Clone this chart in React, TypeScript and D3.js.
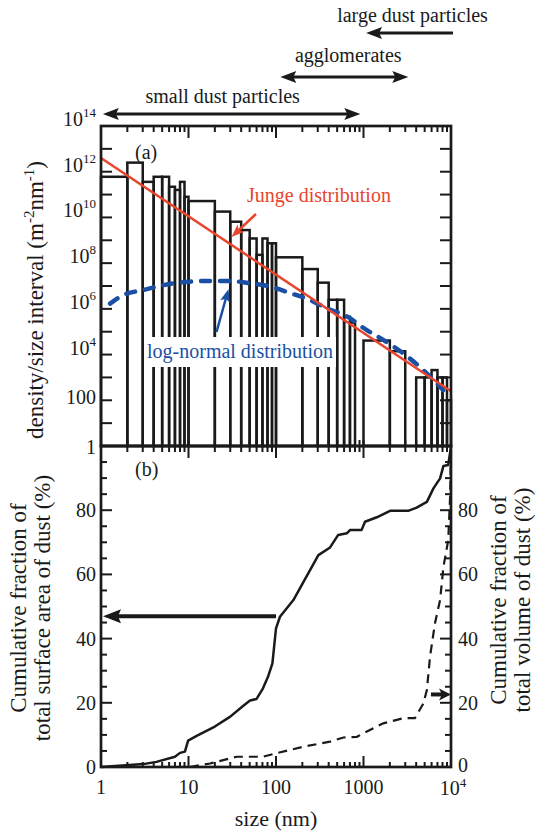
import React from "react";
import * as d3 from "d3";

// histogram bins (nm) and density per size interval (m^-2 nm^-1)
const binLow = [1, 2, 3, 4, 5, 6, 7, 8, 9, 10, 20, 30, 40, 50, 60, 70, 80, 90, 100, 200, 300, 400, 500, 600, 700, 1000, 2000, 4000, 5000, 6000, 7000, 8000, 9000];
const binHigh = [2, 3, 4, 5, 6, 7, 8, 9, 10, 20, 30, 40, 50, 60, 70, 80, 90, 100, 200, 300, 400, 500, 600, 700, 800, 2000, 3000, 5000, 6000, 7000, 8000, 9000, 10000];
const binDensity = [6e11, 2.5e12, 3.6e11, 6e11, 6e11, 2.2e11, 1.6e11, 3.6e11, 8e10, 5.2e10, 1.8e10, 6.5e9, 2.8e9, 1.2e9, 2.3e8, 1.2e9, 7.4e8, 7.4e8, 1.8e8, 5.5e7, 1.4e7, 2.5e6, 2.5e6, 4.5e5, 2.5e5, 4.1e4, 1.4e4, 1e3, 1e3, 2.1e3, 1e3, 1e3, 1e2];

// Junge power law (end points)
const jungeSize = [1, 10000];
const jungeDensity = [4e12, 2.5e2];

// log-normal fit
const lognSize = [1.27, 1.8, 3, 6.1, 10.4, 16, 30, 50, 85, 145, 245, 380, 645, 1090, 1680, 2850, 4820, 8170];
const lognDensity = [1.7e6, 4e6, 6.6e6, 1.23e7, 1.55e7, 1.66e7, 1.66e7, 1.32e7, 9.5e6, 4.9e6, 2.45e6, 1.05e6, 4.7e5, 1.17e5, 4.4e4, 1.12e4, 2.1e3, 2.8e2];

// cumulative fraction of total surface area (%)
const areaSize = [1, 3.04, 4.3, 7, 8, 9.1, 9.9, 12.4, 20, 30, 42, 50.5, 60, 71, 81, 91, 100, 111, 158, 305, 415, 514, 645, 700, 950, 1040, 1420, 2010, 3240, 4050, 5300, 6300, 7500, 8200, 9300, 10000];
const areaPct = [0, 0.9, 1.6, 3.2, 4.4, 4.8, 8.2, 9.7, 12.6, 15.7, 19, 20.7, 21.2, 24.5, 28.1, 32.3, 43.2, 46.8, 52, 66, 68.4, 72.3, 72.8, 73.8, 73.8, 76.4, 77.8, 79.8, 79.8, 80.8, 82.6, 86.8, 89.9, 93.8, 94.1, 99.8];

// cumulative fraction of total volume (%)
const volSize = [10.4, 17.6, 35.5, 71, 101, 204, 415, 590, 840, 1000, 1680, 2850, 3860, 4830, 5300, 5760, 6560, 7500, 8200, 9300, 9800, 10000];
const volPct = [0, 1.1, 3.2, 3.2, 4.3, 6.3, 7.9, 9.2, 9.4, 10.5, 13.6, 15.2, 15.2, 19.8, 24, 34.4, 44.8, 52, 62.4, 70.7, 85, 100];

const yTickExp = [0, 2, 4, 6, 8, 10, 12, 14];
const pctTicks = [0, 20, 40, 60, 80];
const xTickLabels = ["1", "10", "100", "1000", "10^4"];

const FONT = "'Liberation Serif', 'Times New Roman', Times, serif";
const RED = "#e8452c";
const BLUE = "#1a4fa3";
const INK = "#1a1a1a";

function head(x: number, y: number, angle: number, len = 14, half = 5.5) {
  const c = Math.cos(angle), s = Math.sin(angle);
  const bx = x - c * len, by = y - s * len;
  return `M${x},${y}L${bx - s * half},${by + c * half}L${bx + c * 3},${by + s * 3}L${bx + s * half},${by - c * half}Z`;
}

function Arrow({ x1, y1, x2, y2, color = INK, w = 2.5, len = 14, half = 5.5, both = false }: any) {
  const a = Math.atan2(y2 - y1, x2 - x1);
  const c = Math.cos(a), s = Math.sin(a);
  return (
    <g>
      <line x1={both ? x1 + c * len * 0.7 : x1} y1={both ? y1 + s * len * 0.7 : y1} x2={x2 - c * len * 0.7} y2={y2 - s * len * 0.7} stroke={color} strokeWidth={w} />
      <path d={head(x2, y2, a, len, half)} fill={color} />
      {both && <path d={head(x1, y1, a + Math.PI, len, half)} fill={color} />}
    </g>
  );
}

export default function App() {
  const left = 101, right = 451, topA = 126, midY = 446, botB = 767;
  const x = d3.scaleLog().domain([1, 1e4]).range([left, right]);
  const yA = d3.scaleLog().domain([1, 1e14]).range([midY, topA]);
  const yB = d3.scaleLinear().domain([0, 100]).range([botB, midY]);

  const xt = x.ticks();
  const isMajor = (v: number) => Math.abs(Math.log10(v) - Math.round(Math.log10(v))) < 1e-9;

  const lineA = d3.line<[number, number]>().x((d) => x(d[0])).y((d) => yA(d[1]));
  const lineB = d3.line<[number, number]>().x((d) => x(d[0])).y((d) => yB(d[1]));

  const junge = jungeSize.map((s, i) => [s, jungeDensity[i]] as [number, number]);
  const logn = d3.line<[number, number]>().x((d) => x(d[0])).y((d) => yA(d[1])).curve(d3.curveMonotoneX)(lognSize.map((s, i) => [s, lognDensity[i]]));
  const area = areaSize.map((s, i) => [s, areaPct[i]] as [number, number]);
  const vol = volSize.map((s, i) => [s, volPct[i]] as [number, number]);

  const minor5 = d3.range(0, 101, 5);

  return (
    <svg width={540} height={832} style={{ display: "block", position: "absolute", left: 0, top: 0, background: "#fff", fontFamily: FONT }}>
      <rect width={540} height={832} fill="#fff" />

      {/* top range arrows */}
      <text x={x(500)} y={22} fontSize={20} fill={INK}>large dust particles</text>
      <Arrow x1={x(1e4) + 2} y1={33} x2={x(1070)} y2={33} w={3} len={16} half={6} />
      <text x={(x(110) + x(3300)) / 2 + 4} y={62} fontSize={20} textAnchor="middle" fill={INK}>agglomerates</text>
      <Arrow x1={x(112)} y1={77} x2={x(3250)} y2={77} w={3} len={16} half={6} both />
      <text x={(x(1) + x(920)) / 2 - 8} y={103} fontSize={20} textAnchor="middle" fill={INK}>small dust particles</text>
      <Arrow x1={x(1.05)} y1={114} x2={x(920)} y2={114} w={3} len={16} half={6} both />

      {/* histogram */}
      <g fill="none" stroke={INK} strokeWidth={2.5}>
        {binDensity.map((v, i) => (
          <rect key={i} x={x(binLow[i])} y={yA(v)} width={x(binHigh[i]) - x(binLow[i])} height={midY - yA(v)} />
        ))}
      </g>

      {/* label boxes */}
      <rect x={146} y={337} width={190} height={30} fill="#fff" />
      <text x={147} y={358} fontSize={20} fill={BLUE}>log-normal distribution</text>
      <text x={247} y={202} fontSize={20} fill={RED}>Junge distribution</text>

      {/* fits */}
      <path d={logn || ""} fill="none" stroke={BLUE} strokeWidth={4.5} strokeDasharray="9 10" strokeLinecap="round" />
      <path d={lineA(junge) || ""} fill="none" stroke={RED} strokeWidth={2.5} />
      <Arrow x1={256} y1={214} x2={231.5} y2={237} color={RED} w={2.5} len={13} half={5} />
      <Arrow x1={216.5} y1={332} x2={228.5} y2={289} color={BLUE} w={2.5} len={13} half={5} />

      {/* panel b curves */}
      <path d={lineB(area) || ""} fill="none" stroke={INK} strokeWidth={2.5} strokeLinejoin="round" />
      <path d={lineB(vol) || ""} fill="none" stroke={INK} strokeWidth={2.2} strokeDasharray="9 6" />
      <Arrow x1={x(100)} y1={yB(47)} x2={x(1) + 2} y2={yB(47)} w={4} len={18} half={7} />
      <Arrow x1={x(5900)} y1={yB(22.6)} x2={x(1e4)} y2={yB(22.6)} w={4} len={12} half={6} />

      <text x={135} y={159} fontSize={20} fill={INK}>(a)</text>
      <text x={135} y={476} fontSize={20} fill={INK}>(b)</text>

      {/* frames */}
      <g fill="none" stroke={INK} strokeWidth={2.7}>
        <rect x={left} y={topA} width={right - left} height={midY - topA} />
        <rect x={left} y={midY} width={right - left} height={botB - midY} />
      </g>

      {/* ticks */}
      <g stroke={INK} strokeWidth={2}>
        {xt.map((v, i) => {
          const m = isMajor(v);
          const px = x(v);
          return (
            <g key={i}>
              <line x1={px} x2={px} y1={topA} y2={topA + (m ? 12 : 6)} />
              <line x1={px} x2={px} y1={midY - 6} y2={midY + (m ? 12 : 6)} />
              <line x1={px} x2={px} y1={botB} y2={botB - (m ? 11 : 5)} />
            </g>
          );
        })}
        {d3.range(0, 15).map((e) => (
          <g key={e}>
            <line x1={left} x2={left + 11} y1={yA(10 ** e)} y2={yA(10 ** e)} />
            <line x1={right} x2={right - 11} y1={yA(10 ** e)} y2={yA(10 ** e)} />
          </g>
        ))}
        {minor5.map((p) => {
          const m = p % 20 === 0;
          return (
            <g key={p}>
              <line x1={left} x2={left + (m ? 11 : 6)} y1={yB(p)} y2={yB(p)} />
              <line x1={right} x2={right - (m ? 11 : 6)} y1={yB(p)} y2={yB(p)} />
            </g>
          );
        })}
      </g>

      {/* y tick labels panel a */}
      <g fontSize={20} fill={INK} textAnchor="end">
        {yTickExp.map((e) => {
          const py = yA(10 ** e);
          if (e === 0) return <text key={e} x={96} y={py + 8}>1</text>;
          if (e === 2) return <text key={e} x={96} y={py + 4}>100</text>;
          return (
            <text key={e} x={96} y={py}>
              10<tspan fontSize={13} dy={-9}>{e}</tspan>
            </text>
          );
        })}
      </g>

      {/* panel b tick labels */}
      <g fontSize={20} fill={INK}>
        {pctTicks.map((p) => (
          <g key={p}>
            <text x={96} y={yB(p) + 7} textAnchor="end">{p}</text>
            <text x={458} y={yB(p) + (p === 0 ? 5 : 7)}>{p}</text>
          </g>
        ))}
      </g>

      {/* x tick labels */}
      <g fontSize={20} fill={INK} textAnchor="middle">
        {xTickLabels.map((t, i) => {
          const px = x(10 ** i);
          if (t.includes("^")) {
            return (
              <text key={t} x={px + 2} y={795}>
                10<tspan fontSize={13} dy={-8}>4</tspan>
              </text>
            );
          }
          return <text key={t} x={px} y={794}>{t}</text>;
        })}
      </g>

      {/* axis titles */}
      <text x={276} y={826} fontSize={22} textAnchor="middle" fill={INK}>size (nm)</text>
      <text transform="translate(43,300) rotate(-90)" fontSize={23} textAnchor="middle" fill={INK}>
        density/size interval (m<tspan fontSize={15} dy={-9}>-2</tspan><tspan dy={9}>nm</tspan><tspan fontSize={15} dy={-9}>-1</tspan><tspan dy={9}>)</tspan>
      </text>
      <text transform="translate(26,608) rotate(-90)" fontSize={23} textAnchor="middle" fill={INK}>Cumulative fraction of</text>
      <text transform="translate(50,608) rotate(-90)" fontSize={23} textAnchor="middle" fill={INK}>total surface area of dust (%)</text>
      <text transform="translate(506,600) rotate(-90)" fontSize={23} textAnchor="middle" fill={INK}>Cumulative fraction of</text>
      <text transform="translate(530,600) rotate(-90)" fontSize={23} textAnchor="middle" fill={INK}>total volume of dust (%)</text>
    </svg>
  );
}
